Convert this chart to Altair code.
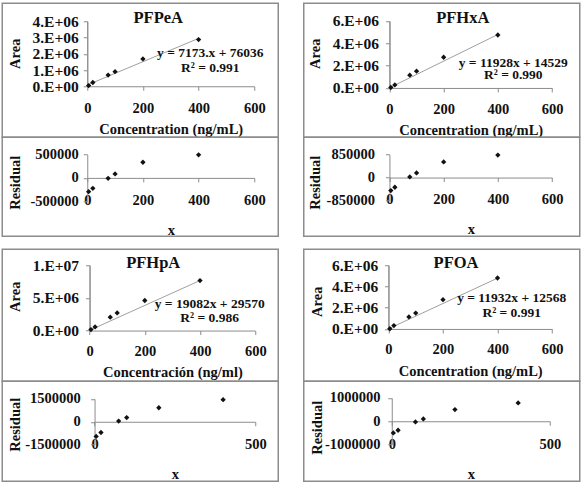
import altair as alt
import pandas as pd

FONT = "Liberation Serif"
INK = "#111111"
GREY = "#8c8c8c"
TREND = "#a0a0a0"

# calibration levels (ng/mL)
conc = [5, 20, 75, 100, 200, 400]

compounds = ["PFPeA", "PFHxA", "PFHpA", "PFOA"]

# peak areas for each compound
area_pfpea = [40000, 230000, 690000, 900000, 1680000, 2870000]
area_pfhxa = [40000, 270000, 1140000, 1500000, 2750000, 4740000]
area_pfhpa = [150000, 550000, 2040000, 2700000, 4600000, 7660000]
area_pfoa = [20000, 320000, 1130000, 1500000, 2760000, 4800000]
areas = [area_pfpea, area_pfhxa, area_pfhpa, area_pfoa]

# regression residuals
resid_pfpea = [-294000, -223000, -10000, 86000, 335000, 495000]
resid_pfhxa = [-480000, -358000, 22000, 170000, 576000, 830000]
resid_pfhpa = [-966000, -708000, 45000, 277000, 920000, 1450000]
resid_pfoa = [-500000, -386000, -30000, 100000, 500000, 785000]
residuals_all = [resid_pfpea, resid_pfhxa, resid_pfhpa, resid_pfoa]

# linear fits
slopes = [7173, 11928, 19082, 11932]
intercepts = [76036, 14529, 29570, 12568]
equations = ["y = 7173.x + 76036", "y = 11928x + 14529",
             "y = 19082x + 29570", "y = 11932x + 12568"]
r_squared = ["R² = 0.991", "R² = 0.990", "R² = 0.986", "R² = 0.991"]
x_titles = ["Concentration (ng/mL)", "Concentration (ng/mL)",
            "Concentración (ng/ml)", "Concentration (ng/mL)"]

area_ticks = [[0, 1e6, 2e6, 3e6, 4e6], [0, 2e6, 4e6, 6e6],
              [0, 5e6, 1e7], [0, 2e6, 4e6, 6e6]]
resid_ticks = [[-500000, 0, 500000], [-850000, 0, 850000],
               [-1500000, 0, 1500000], [-1000000, 0, 1000000]]
conc_ticks = [0, 200, 400, 600]
resid_conc_ticks = [[0, 200, 400, 600], [0, 200, 400, 600], [0, 500], [0, 500]]

# per-panel geometry in pixels (relative to each framed box)
LAYOUT = [
    dict(w=276, hc=134, hr=99,
         cx=[85, 252], cy=[83, 18], cxlab=18, cylab=5, cxt=43, cyt=(13, 50),
         head=(156, 20), eq=(442, 2.03e6, 1.11e6),
         rx=[85, 252], ry=[64, 17.3], rxlab=18.3, rylab=5, rxt=52.3, ryt=(13, 45)),
    dict(w=276, hc=134, hr=99,
         cx=[85.7, 248.3], cy=[84.7, 17.7], cxlab=18, cylab=7, cxt=43, cyt=(12, 50),
         head=(159, 20), eq=(457, 2.24e6, 1.14e6),
         rx=[85.7, 248.3], ry=[63.3, 17.3], rxlab=18.3, rylab=11, rxt=52.3, ryt=(12, 45)),
    dict(w=276, hc=132, hr=100,
         cx=[87.3, 253], cy=[81.3, 16], cxlab=16.7, cylab=7, cxt=42.4, cyt=(13, 47),
         head=(151, 18.7), eq=(435, 4.07e6, 1.93e6),
         rx=[92.3, 253], ry=[63.3, 17.7], rxlab=18.8, rylab=10.3, rxt=52.8, ryt=(13, 43)),
    dict(w=276, hc=132, hr=100,
         cx=[84.7, 248.3], cy=[79.7, 16], cxlab=16.7, cylab=6.7, cxt=42.4, cyt=(14, 52),
         head=(152.3, 18.7), eq=(452, 2.92e6, 1.51e6),
         rx=[88, 246], ry=[63.3, 16.7], rxlab=18.8, rylab=7.7, rxt=52.8, ryt=(14, 46)),
]

SCI = "replace(format(datum.value, '.0e'), 'e+', '.E+0')"


def calibration(i, g):
    df = pd.DataFrame({"conc": conc, "area": areas[i]})
    lo, hi = min(conc), max(conc)
    fit = pd.DataFrame({"conc": [lo, hi],
                        "area": [slopes[i] * lo + intercepts[i], slopes[i] * hi + intercepts[i]]})
    xs = alt.Scale(domain=[0, 600], range=g["cx"], nice=False, zero=False)
    ys = alt.Scale(domain=[0, area_ticks[i][-1]], range=g["cy"], nice=False, zero=False)
    x_axis = alt.Axis(values=conc_ticks, offset=g["cy"][0] - g["hc"], title=x_titles[i],
                      labelPadding=g["cxlab"], labelBaseline="middle", labelOverlap=False,
                      titleY=g["cxt"], titleBaseline="middle")

    # the area axis is split over two coincident axes so that every label is kept
    def area_axis(values, titled):
        opts = dict(values=values, offset=-g["cx"][0], orient="left", labelExpr=SCI,
                    labelPadding=g["cylab"], labelOverlap=False, labelFontSize=15.5)
        if titled:
            opts.update(title="Area", titleX=g["cyt"][0] - g["cx"][0], titleY=g["cyt"][1],
                        titleAngle=-90, titleAlign="center", titleBaseline="middle")
        else:
            opts.update(title=None)
        return alt.Axis(**opts)

    x = alt.X("conc:Q", scale=xs, axis=x_axis)
    line = alt.Chart(fit).mark_line(color=TREND, strokeWidth=1).encode(
        x=x, y=alt.Y("area:Q", scale=ys, axis=area_axis(area_ticks[i][0::2], True)))
    pts = alt.Chart(df).mark_point(shape="diamond", filled=True, size=28,
                                   color=INK, opacity=1).encode(
        x=x, y=alt.Y("area:Q", scale=ys, axis=area_axis(area_ticks[i][1::2], False)))

    ex, ey1, ey2 = g["eq"]
    txt = dict(font=FONT, fontSize=13.5, fontWeight="bold", color=INK,
               align="center", baseline="middle")
    eq1 = alt.Chart(pd.DataFrame({"t": [equations[i]]})).mark_text(**txt).encode(
        x=alt.XDatum(ex), y=alt.YDatum(ey1, axis=None), text="t:N")
    eq2 = alt.Chart(pd.DataFrame({"t": [r_squared[i]]})).mark_text(**txt).encode(
        x=alt.XDatum(ex), y=alt.YDatum(ey2, axis=None), text="t:N")

    # compound name heading inside the framed box
    hx, hy = g["head"]
    head = alt.Chart(pd.DataFrame({"t": [compounds[i]]})).mark_text(
        font=FONT, fontSize=16.5, fontWeight="bold", color=INK,
        align="center", baseline="alphabetic",
    ).encode(x=alt.value(hx), y=alt.value(hy), text="t:N")

    return alt.layer(line, pts, eq1, eq2, head).resolve_axis(y="independent").properties(
        width=g["w"], height=g["hc"])


def residual(i, g):
    df = pd.DataFrame({"conc": conc, "resid": residuals_all[i]})
    top = resid_ticks[i][-1]
    xs = alt.Scale(domain=[0, resid_conc_ticks[i][-1]], range=g["rx"], nice=False, zero=False)
    ys = alt.Scale(domain=[-top, top], range=g["ry"], nice=False, zero=False)
    zero_y = (g["ry"][0] + g["ry"][1]) / 2
    x_axis = alt.Axis(values=resid_conc_ticks[i], offset=zero_y - g["hr"], title="x",
                      labelPadding=g["rxlab"], labelBaseline="middle", labelOverlap=False,
                      titleY=g["rxt"], titleBaseline="middle")
    y_axis = alt.Axis(values=resid_ticks[i], offset=-g["rx"][0], labelExpr="'' + datum.value",
                      labelPadding=g["rylab"], labelOverlap=False, title="Residual",
                      titleX=g["ryt"][0] - g["rx"][0], titleY=g["ryt"][1],
                      titleAngle=-90, titleAlign="center", titleBaseline="middle")
    return alt.Chart(df).mark_point(shape="diamond", filled=True, size=28,
                                    color=INK, opacity=1).encode(
        x=alt.X("conc:Q", scale=xs, axis=x_axis),
        y=alt.Y("resid:Q", scale=ys, axis=y_axis),
    ).properties(width=g["w"], height=g["hr"])


panels = [alt.vconcat(calibration(i, LAYOUT[i]), residual(i, LAYOUT[i]),
                      spacing=0, bounds="flush") for i in range(4)]

chart = alt.vconcat(
    alt.hconcat(panels[0], panels[1], spacing=23.5),
    alt.hconcat(panels[2], panels[3], spacing=23.5),
    spacing=10,
).properties(
    padding={"left": 1.25, "top": 2.25, "right": 0, "bottom": 0},
    background="white",
).configure_view(
    stroke=GREY, strokeWidth=1.5,
).configure_axis(
    grid=False, domainColor=GREY, tickColor=GREY, domainWidth=1, tickWidth=1, tickSize=4,
    labelFont=FONT, labelFontWeight="bold", labelFontSize=14.5, labelColor=INK,
    titleFont=FONT, titleFontWeight="bold", titleFontSize=14.5, titleColor=INK,
    labelFlush=False, labelOverlap=False,
)

chart.save("out.html", embed_options={"renderer": "svg", "actions": False})
